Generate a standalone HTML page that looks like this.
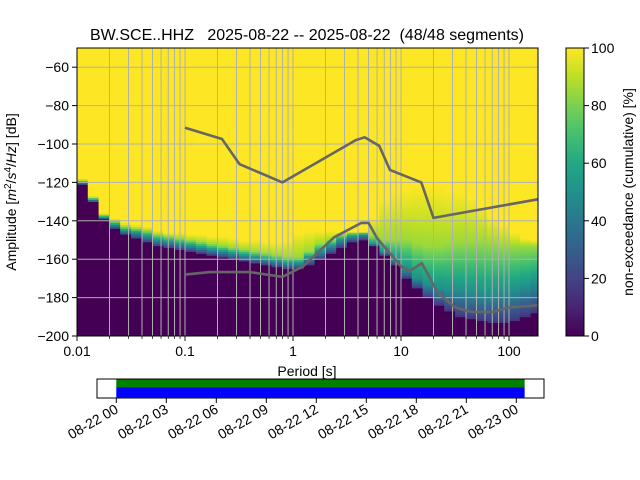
<!DOCTYPE html>
<html><head><meta charset="utf-8"><style>
body{margin:0;background:#fff}
svg{display:block;font-family:"Liberation Sans","DejaVu Sans",sans-serif}
</style></head><body>
<svg id="s" width="640" height="480" viewBox="0 0 640 480">
<text x="307" y="40" font-size="16" text-anchor="middle" xml:space="preserve">BW.SCE..HHZ   2025-08-22 -- 2025-08-22  (48/48 segments)</text>
<g id="heat"></g>
<g id="grid"></g>
<g id="models"></g>
<rect x="77" y="48" width="461" height="288" fill="none" stroke="#000" stroke-width="1"/>
<g id="axes"></g>
<text x="307" y="376" font-size="14" text-anchor="middle">Period [s]</text>
<text transform="translate(16,192) rotate(-90)" font-size="14" text-anchor="middle">Amplitude [<tspan font-style="italic">m</tspan><tspan font-size="10" dy="-5">2</tspan><tspan dy="5">/</tspan><tspan font-style="italic">s</tspan><tspan font-size="10" dy="-5">4</tspan><tspan dy="5">/</tspan><tspan font-style="italic">Hz</tspan>] [dB]</text>
<defs><linearGradient id="vir" x1="0" y1="1" x2="0" y2="0"></linearGradient></defs>
<rect x="566" y="48" width="18" height="288" fill="url(#vir)" stroke="#000" stroke-width="1"/>
<g id="cbar"></g>
<text transform="translate(633,192) rotate(-90)" font-size="14" text-anchor="middle">non-exceedance (cumulative) [%]</text>
<rect x="97" y="379" width="447" height="19" fill="#fff" stroke="#000"/>
<g id="tl"></g>
</svg>
<script>
const NS='http://www.w3.org/2000/svg';
function mk(tag,attrs,parent){const e=document.createElementNS(NS,tag);for(const k in attrs)e.setAttribute(k,attrs[k]);parent.appendChild(e);return e;}

// ---- data ----
const periodLog=[-2.0,-1.9,-1.8,-1.7,-1.6,-1.5,-1.4,-1.3,-1.2,-1.1,-1.0,-0.9,-0.8,-0.7,-0.6,-0.5,-0.4,-0.3,-0.2,-0.1,0.0,0.1,0.2,0.3,0.4,0.5,0.6,0.7,0.8,0.9,1.0,1.1,1.2,1.3,1.4,1.5,1.6,1.7,1.8,1.9,2.0,2.1,2.2];
const level0=[-121,-130,-139,-144,-147,-149,-151,-153,-154,-155,-156,-157,-158,-159,-160,-161,-162,-163,-164,-165,-165,-163,-160,-157,-154,-151,-150,-153,-158,-163,-170,-175,-180,-184,-187,-190,-191,-192,-193,-193,-192,-190,-188];
const level50=[-120,-129,-138,-142,-145,-146,-148,-150,-151,-152,-153,-154,-155,-156,-157,-158,-159,-160,-161,-162,-162,-159,-156,-153,-150,-148,-147,-152,-156,-160,-165,-170,-173,-175,-176,-176,-177,-178,-178,-177,-176,-174,-172];
const level85=[-119,-128,-137,-140,-143,-144,-145,-147,-148,-149,-150,-151,-152,-153,-154,-155,-156,-157,-158,-159,-159,-156,-152,-150,-147,-146,-146,-148,-150,-150,-150,-152,-153,-153,-152,-151,-151,-151,-152,-153,-153,-153,-153];
const level100=[-118,-127,-136,-139,-141,-142,-143,-145,-146,-146,-147,-147,-148,-148,-149,-150,-150,-151,-151,-150,-146,-145,-145,-145,-146,-147,-148,-138,-128,-125,-124,-122,-121,-122,-124,-125,-128,-132,-138,-142,-146,-149,-150];
const nhnmP=[0.1,0.22,0.32,0.8,3.8,4.6,6.3,7.9,15.4,20,185];
const nhnmDb=[-91.5,-97.4,-110.5,-120,-98,-96.5,-101,-113.5,-120,-138.5,-128.8];
const nlnmP=[0.1,0.17,0.4,0.8,1.24,2.4,4.3,5.0,6.0,10,12,15.6,21.9,31.6,45,70,101,154,185];
const nlnmDb=[-168,-166.7,-166.7,-169.2,-163.7,-148.6,-141.1,-141.1,-149,-163.8,-166.2,-162.1,-177.5,-185,-187.5,-187.5,-185,-184.4,-184];
const xTicks=[0.01,0.1,1,10,100];
const xTickLabels=['0.01','0.1','1','10','100'];
const yTicks=[-60,-80,-100,-120,-140,-160,-180,-200];
const cTicks=[0,20,40,60,80,100];
const timeTicks=['08-22 00','08-22 03','08-22 06','08-22 09','08-22 12','08-22 15','08-22 18','08-22 21','08-23 00'];
const coverStartH=0, coverEndH=24.5;

// ---- scales ----
const X0=77,X1=538,Y0=48,Y1=336;
const xs=l=>293+108*l;              // log10 period -> px
const xp=p=>xs(Math.log10(p));
const ys=d=>336-(d+200)*1.92;
const viridis=['#440154','#482475','#414487','#355f8d','#2a788e','#21918c','#22a884','#44bf70','#7ad151','#bddf26','#fde725'];
function hex(h){return [1,3,5].map(i=>parseInt(h.substr(i,2),16));}
function vcol(f){f=Math.max(0,Math.min(1,f));const t=f*10,i=Math.min(9,Math.floor(t)),r=t-i;const a=hex(viridis[i]),b=hex(viridis[i+1]);return 'rgb('+a.map((v,k)=>Math.round(v+(b[k]-v)*r)).join(',')+')';}

// gradient
const g=document.getElementById('vir');
viridis.forEach((c,i)=>{const st=mk('stop',{offset:(i*10)+'%','stop-color':c},g);});

// ---- heatmap ----
const heat=document.getElementById('heat');
function frac(d,i){
  const a=level0[i],b=level50[i],c=level85[i],e=level100[i];
  if(d<a) return 0;
  if(d<b) return 0.15+0.35*(d-a)/(b-a);
  if(d<c) return 0.5+0.35*(d-b)/(c-b);
  if(d<e) return 0.85+0.15*(d-c)/(e-c);
  return 1;
}
const step=periodLog[1]-periodLog[0];
for(let i=0;i<periodLog.length;i++){
  const xa=Math.max(X0,xs(periodLog[i])), xb=Math.min(X1,xs(periodLog[i]+step));
  for(let d=-200;d<-50;d++){
    const r=mk('rect',{x:xa.toFixed(2),y:Math.max(Y0,ys(d+1)).toFixed(2),width:(xb-xa+0.4).toFixed(2),height:(Math.min(Y1,ys(d))-Math.max(Y0,ys(d+1))+0.4).toFixed(2),fill:vcol(frac(d+0.5,i))},heat);
    
    
  }
}

// ---- grid & axes ----
const grid=document.getElementById('grid'), axes=document.getElementById('axes');
for(let dec=-2;dec<=2;dec++){
  for(let m=1;m<10;m++){
    const x=xs(dec+Math.log10(m)); if(x<X0||x>X1) continue;
    const gl=mk('line',{x1:x,x2:x,y1:Y0,y2:Y1,stroke:'#b0b0b0','stroke-width':1},grid);
    
    
    const tk=mk('line',{x1:x,x2:x,y1:Y1,y2:Y1+(m==1?5:3),stroke:'#000','stroke-width':m==1?0.9:0.7},axes);
    
    
  }
}
xTicks.forEach((p,i)=>{const t=mk('text',{x:xp(p),y:356,'font-size':14,'text-anchor':'middle'},axes);t.textContent=xTickLabels[i];
  
  });
yTicks.forEach(d=>{const y=ys(d);
  const gl=mk('line',{x1:X0,x2:X1,y1:y,y2:y,stroke:'#b0b0b0','stroke-width':1},grid);
  
  
  const tk=mk('line',{x1:X0-5,x2:X0,y1:y,y2:y,stroke:'#000'},axes);
  
  
  const t=mk('text',{x:X0-8,y:y+5,'font-size':14,'text-anchor':'end'},axes);t.textContent=String(d).replace('-','\u2212');
  
  });

// ---- models ----
const models=document.getElementById('models');
function poly(P,D,name){const pts=P.map((p,i)=>xp(p).toFixed(1)+','+ys(D[i]).toFixed(1)).join(' ');
  const pl=mk('polyline',{points:pts,fill:'none',stroke:'#666','stroke-width':2.6,'stroke-linejoin':'round'},models);
  
  }
poly(nhnmP,nhnmDb,'nhnm-line');
poly(nlnmP,nlnmDb,'nlnm-line');

// ---- colorbar ticks ----
const cb=document.getElementById('cbar');
cTicks.forEach(v=>{const y=336-v*2.88;
  const tk=mk('line',{x1:584,x2:589,y1:y,y2:y,stroke:'#000'},cb);
  
  
  const t=mk('text',{x:591,y:y+5,'font-size':14},cb);t.textContent=v;
  
  });

// ---- timeline ----
const tl=document.getElementById('tl');
const tx=h=>116.3+h*(50/3);
const gb=mk('rect',{x:tx(coverStartH),y:379.5,width:tx(coverEndH)-tx(coverStartH),height:8,fill:'#008000'},tl);


const bb=mk('rect',{x:tx(coverStartH),y:387.5,width:tx(coverEndH)-tx(coverStartH),height:10.5,fill:'#0000ff'},tl);


timeTicks.forEach((lab,i)=>{const x=tx(i*3);
  const tk=mk('line',{x1:x,x2:x,y1:398,y2:403,stroke:'#000'},tl);
  
  
  const t=mk('text',{x:0,y:0,'font-size':14,'text-anchor':'end',transform:'translate('+(x+3)+',412) rotate(-30)'},tl);t.textContent=lab;
  
  });
</script>
</body></html>
